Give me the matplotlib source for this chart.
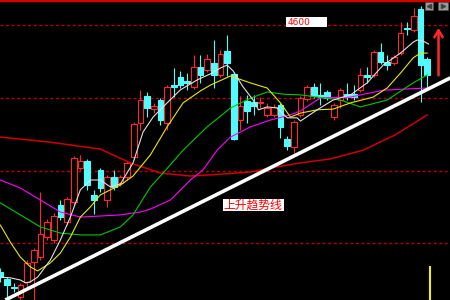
import numpy as np
import matplotlib.pyplot as plt
from matplotlib.patches import Rectangle

# ================= data =======================================
# daily bars, index 0 = leftmost (partly cut) bar
opens = [3921, 3902, 3880, 3852, 3894, 3949, 3962, 4017, 4009, 4105, 4059, 4114, 4207, 4226, 4133,
         4202, 4119, 4182, 4166, 4182, 4237, 4331, 4405, 4369, 4394, 4331, 4435, 4457, 4446, 4430,
         4485, 4477, 4496, 4463, 4529, 4466, 4339, 4391, 4389, 4386, 4353, 4353, 4380, 4287, 4265,
         4353, 4397, 4430, 4408, 4416, 4347, 4394, 4411, 4411, 4422, 4463, 4463, 4526, 4499, 4496,
         4523, 4592, 4587, 4644, 4507]
closes = [3907, 3885, 3877, 3885, 3946, 3982, 4026, 4059, 4075, 4072, 4122, 4235, 4226, 4160, 4119,
          4152, 4182, 4155, 4182, 4221, 4328, 4394, 4372, 4378, 4339, 4430, 4430, 4435, 4441, 4485,
          4463, 4507, 4463, 4521, 4496, 4287, 4378, 4364, 4378, 4389, 4372, 4375, 4320, 4268, 4334,
          4400, 4430, 4405, 4402, 4400, 4380, 4422, 4402, 4402, 4463, 4457, 4526, 4499, 4490, 4512,
          4578, 4589, 4625, 4490, 4463]
highs = [3932, 3907, 3891, 3891, 3954, 3987, 4141, 4067, 4083, 4119, 4127, 4240, 4243, 4232, 4147,
         4207, 4188, 4202, 4188, 4226, 4334, 4422, 4416, 4386, 4400, 4435, 4482, 4474, 4468, 4518,
         4518, 4521, 4559, 4532, 4573, 4471, 4405, 4408, 4408, 4402, 4386, 4383, 4386, 4295, 4339,
         4405, 4435, 4441, 4441, 4422, 4386, 4427, 4441, 4435, 4482, 4485, 4532, 4551, 4518, 4518,
         4609, 4609, 4647, 4653, 4512]
lows = [3894, 3838, 3866, 3838, 3880, 3835, 3954, 4009, 4001, 4064, 4050, 4105, 4202, 4147, 4081,
        4141, 4100, 4147, 4158, 4174, 4229, 4312, 4347, 4358, 4325, 4312, 4402, 4427, 4422, 4424,
        4441, 4471, 4427, 4457, 4460, 4284, 4312, 4331, 4353, 4372, 4347, 4347, 4290, 4257, 4248,
        4347, 4391, 4400, 4380, 4394, 4339, 4372, 4394, 4394, 4416, 4441, 4457, 4493, 4477, 4490,
        4518, 4573, 4581, 4389, 4430]

# moving averages (bar position, price)
ma5_x = [0, 1.5, 3, 3.8, 4.5, 5.6, 7.5, 9, 10.5, 12, 13.5, 15, 16.5, 18, 19.9, 21.4, 22.9, 25, 27,
         29.5, 31.5, 33, 34, 34.9, 36.4, 37.9, 38.7, 40, 41.5, 43, 44.5, 45, 47.5, 49.9, 52.5, 55,
         57.4, 60, 61.9, 62.5, 63.4, 64.2]
ma5_y = [3907, 3905, 3899, 3891, 3894, 3907, 3954, 4009, 4072, 4147, 4174, 4174, 4155, 4163, 4221,
         4306, 4347, 4386, 4422, 4449, 4466, 4482, 4490, 4474, 4430, 4394, 4367, 4375, 4372, 4345,
         4345, 4336, 4367, 4394, 4408, 4441, 4490, 4523, 4553, 4559, 4556, 4548]

ma10_x = [0, 1.5, 3, 4.5, 5.6, 7.5, 9, 10.5, 12, 13.5, 15, 16.5, 18, 19.9, 22.5, 25, 27.4, 30, 31.5,
          34.5, 37.5, 40, 42, 43.5, 45, 47.5, 49.9, 52.5, 55.9, 58, 60, 61.9, 63, 64]
ma10_y = [4050, 4003, 3962, 3935, 3924, 3946, 3973, 4017, 4072, 4100, 4133, 4147, 4160, 4185, 4243,
          4320, 4386, 4419, 4435, 4460, 4441, 4427, 4386, 4347, 4358, 4367, 4369, 4386, 4402, 4427,
          4468, 4510, 4523, 4523]

ma20_x = [0, 3, 6, 9, 12, 15, 18, 19.9, 22.5, 24.4, 27.4, 31, 34.5, 37.5, 40, 42.4, 45, 51, 54, 58,
          61.9, 64]
ma20_y = [4111, 4078, 4045, 4028, 4023, 4023, 4045, 4078, 4155, 4193, 4256, 4320, 4372, 4399, 4416,
          4410, 4408, 4394, 4375, 4394, 4441, 4463]

ma30_x = [0, 3, 6, 9, 12, 15, 18, 21, 22.5, 25.5, 28.5, 30.4, 32.5, 34.5, 37.5, 40.5, 43.5, 45, 48,
          52.5, 57.4, 64]
ma30_y = [4174, 4152, 4119, 4086, 4072, 4075, 4078, 4086, 4094, 4119, 4174, 4202, 4256, 4292, 4320,
          4339, 4353, 4364, 4400, 4402, 4421, 4427]

ma60_x = [0, 7.5, 15, 19.5, 24, 28.5, 31.5, 37.5, 40.5, 45, 49.5, 54.4, 59.2, 64]
ma60_y = [4292, 4278, 4259, 4221, 4193, 4185, 4188, 4196, 4207, 4221, 4232, 4256, 4298, 4353]

# hand drawn trend line and guide levels
trend_x = [0.75, 67.5]
trend_y = [3844, 4455]
levels = [4000, 4200, 4400, 4600]
price_label = "4600"
trend_label = "上升趋势线"

opens, closes = np.array(opens), np.array(closes)
highs, lows = np.array(highs), np.array(lows)
x = np.arange(len(opens))

# ================= figure ====================
fig = plt.figure(figsize=(4.5, 3), dpi=100, facecolor="black")
ax = fig.add_axes([0, 0, 1, 1])
ax.set_facecolor("black")
ax.set_xlim(-0.05, 67.42)
ax.set_ylim(3844, 4669)
ax.set_xticks([])
ax.set_yticks([])
for side in ["left", "right", "bottom"]:
    ax.spines[side].set_visible(False)
ax.spines["top"].set_color("#d00000")
ax.spines["top"].set_linewidth(2.5)

RED = "#ff2828"
CYAN = "#50fcfc"

# dotted price levels
for lv in levels:
    ax.axhline(lv, color="#c00000", linestyle=(0, (2, 2)), lw=1, zorder=1)

# candles: red hollow up bars, cyan filled down bars
up = closes >= opens
cols = np.where(up, RED, CYAN)
ax.vlines(x, lows, highs, colors=cols, lw=0.8, zorder=2)
body = np.maximum(np.abs(closes - opens), 2.5)
ax.bar(x, body, bottom=np.minimum(opens, closes), width=0.85,
       facecolor=np.where(up, "black", CYAN), edgecolor=cols, lw=0.8, zorder=2.5)

# moving averages
ax.plot(ma60_x, ma60_y, color="#d00000", lw=1.1, zorder=3)
ax.plot(ma30_x, ma30_y, color="#ff00ff", lw=0.8, zorder=3)
ax.plot(ma20_x, ma20_y, color="#00c800", lw=0.8, zorder=3)
ax.plot(ma10_x, ma10_y, color="#e8e800", lw=0.8, zorder=3)
ax.plot(ma5_x, ma5_y, color="#e0e0e0", lw=0.8, zorder=3)

# trend line
ax.plot(trend_x, trend_y, color="white", lw=2.6, solid_capstyle="butt", zorder=4)

# labels
ax.add_patch(Rectangle((42.9, 4595), 6.1, 27, facecolor="white", edgecolor="none", zorder=5))
ax.text(43.1, 4608, price_label, color="red", fontsize=6.5, va="center", ha="left", zorder=6)
ax.add_patch(Rectangle((33.4, 4089), 9.2, 33, facecolor="white", edgecolor="none", zorder=5))
ax.text(33.5, 4105, trend_label, color="red", fontsize=8.5, va="center", ha="left",
        family=["Noto Sans CJK SC", "DejaVu Sans"], zorder=6)

# red up arrow on the right
ax.annotate("", xy=(65.7, 4600), xytext=(65.7, 4454),
            arrowprops=dict(arrowstyle="->,head_length=0.5,head_width=0.3", color=RED, lw=1.8))

# small yellow bar bottom right
ax.vlines(64.45, 3844, 3937, colors="#f0f000", lw=1.5, zorder=3)

# navigation buttons top right
ax.add_patch(Rectangle((0.944, 0.967), 0.018, 0.027, transform=ax.transAxes,
                       facecolor="#9a9a9a", edgecolor="#505050", lw=0.5, zorder=6))
ax.add_patch(Rectangle((0.973, 0.967), 0.022, 0.027, transform=ax.transAxes,
                       facecolor="#9a9a9a", edgecolor="#505050", lw=0.5, zorder=6))
ax.plot([0.953], [0.98], marker="<", ms=3, color="#404040", transform=ax.transAxes, zorder=7)
ax.plot([0.984], [0.98], marker=">", ms=3, color="#404040", transform=ax.transAxes, zorder=7)

plt.savefig("out.png", dpi=100, facecolor="black")
